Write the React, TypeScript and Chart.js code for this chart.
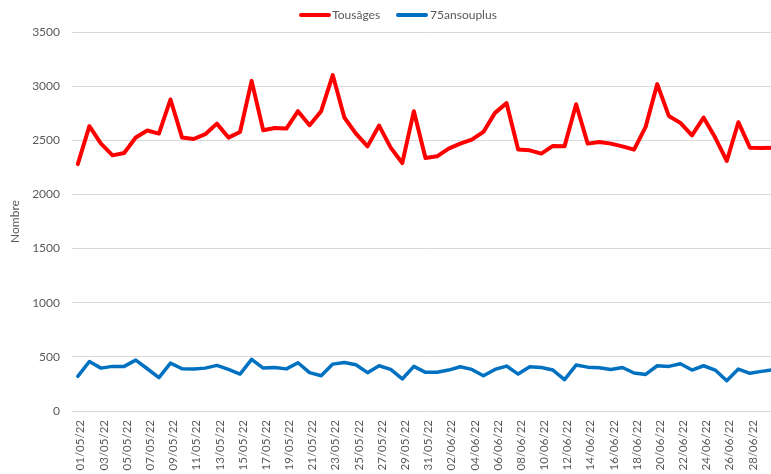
import React, { useEffect, useRef } from "react";
import { Chart, registerables } from "chart.js";

Chart.register(...registerables);

const categories: string[] = [
  "01/05/22", "02/05/22", "03/05/22", "04/05/22", "05/05/22", "06/05/22", "07/05/22", "08/05/22",
  "09/05/22", "10/05/22", "11/05/22", "12/05/22", "13/05/22", "14/05/22", "15/05/22", "16/05/22",
  "17/05/22", "18/05/22", "19/05/22", "20/05/22", "21/05/22", "22/05/22", "23/05/22", "24/05/22",
  "25/05/22", "26/05/22", "27/05/22", "28/05/22", "29/05/22", "30/05/22", "31/05/22",
  "01/06/22", "02/06/22", "03/06/22", "04/06/22", "05/06/22", "06/06/22", "07/06/22", "08/06/22",
  "09/06/22", "10/06/22", "11/06/22", "12/06/22", "13/06/22", "14/06/22", "15/06/22", "16/06/22",
  "17/06/22", "18/06/22", "19/06/22", "20/06/22", "21/06/22", "22/06/22", "23/06/22", "24/06/22",
  "25/06/22", "26/06/22", "27/06/22", "28/06/22", "29/06/22", "30/06/22",
];

const tousAges: number[] = [
  2280, 2630, 2469, 2361, 2383, 2525, 2590, 2562, 2877, 2525,
  2512, 2556, 2654, 2525, 2577, 3049, 2593, 2614, 2608, 2769,
  2639, 2769, 3102, 2710, 2562, 2444, 2636, 2432, 2290, 2769,
  2336, 2352, 2423, 2469, 2506, 2577, 2753, 2843, 2414, 2407,
  2377, 2448, 2444, 2833, 2469, 2485, 2469, 2444, 2414, 2624,
  3019, 2725, 2661, 2546, 2710, 2525, 2309, 2667, 2432, 2429,
  2430,
];

const ansOuPlus75: number[] = [
  320, 457, 396, 412, 412, 470, 390, 308, 442, 390,
  387, 396, 421, 384, 341, 476, 396, 402, 389, 446,
  354, 326, 433, 448, 427, 354, 418, 384, 296, 412,
  357, 357, 378, 409, 384, 326, 384, 415, 341, 409,
  402, 378, 290, 424, 405, 399, 384, 402, 351, 338,
  418, 412, 436, 378, 418, 378, 280, 387, 348, 366,
  380,
];

const yTicks: number[] = [0, 500, 1000, 1500, 2000, 2500, 3000, 3500];

const seriesNames: string[] = ["Tousâges", "75ansouplus"];
const seriesColors: string[] = ["#FF0000", "#0070C0"];

const FONT = "Lato, 'Open Sans', 'Liberation Sans', sans-serif";
const TEXT = "#595959";

export default function App() {
  const canvasRef = useRef<HTMLCanvasElement | null>(null);

  useEffect(() => {
    document.body.style.margin = "0";
    const canvas = canvasRef.current;
    if (!canvas) return;
    const chart = new Chart(canvas, {
      type: "line",
      data: {
        labels: categories,
        datasets: [
          {
            label: seriesNames[0],
            data: tousAges,
            borderColor: seriesColors[0],
            backgroundColor: seriesColors[0],
            borderWidth: 4,
            pointRadius: 0,
            tension: 0,
            borderJoinStyle: "round",
            borderCapStyle: "round",
          },
          {
            label: seriesNames[1],
            data: ansOuPlus75,
            borderColor: seriesColors[1],
            backgroundColor: seriesColors[1],
            borderWidth: 3.5,
            pointRadius: 0,
            tension: 0,
            borderJoinStyle: "round",
            borderCapStyle: "round",
          },
        ],
      },
      options: {
        responsive: false,
        animation: false,
        devicePixelRatio: 1,
        layout: { padding: { top: 32, right: 10, left: 0, bottom: 0 } },
        plugins: {
          legend: { display: false },
          tooltip: { enabled: false },
        },
        scales: {
          x: {
            type: "category",
            offset: true,
            grid: { display: false, drawTicks: false },
            border: { display: false },
            afterFit: (scale: any) => {
              scale.height = 63;
            },
            ticks: {
              autoSkip: false,
              minRotation: 90,
              maxRotation: 90,
              padding: 9,
              labelOffset: 3,
              color: TEXT,
              font: { family: FONT, size: 11.5 },
              callback: function (_v: any, i: number) {
                return i % 2 === 0 && i < categories.length - 1 ? categories[i] : "";
              },
            },
          },
          y: {
            min: 0,
            max: 3500,
            afterFit: (scale: any) => {
              scale.width = 72;
            },
            afterBuildTicks: (scale: any) => {
              scale.ticks = yTicks.map((v) => ({ value: v }));
            },
            grid: { color: "#D9D9D9", lineWidth: 1, drawTicks: false },
            border: { display: false },
            ticks: {
              padding: 12,
              color: TEXT,
              font: { family: FONT, size: 12 },
              callback: (v: any) => String(v),
            },
            title: {
              display: true,
              text: "Nombre",
              color: TEXT,
              font: { family: FONT, size: 12 },
              padding: { top: 8, bottom: 0 },
            },
          },
        },
      },
    });
    return () => chart.destroy();
  }, []);

  const legendItem = (name: string, color: string, gap: number) => (
    <div key={name} style={{ display: "flex", alignItems: "center" }}>
      <div style={{ width: 32, height: 4, background: color, borderRadius: 2, marginRight: gap }} />
      <span style={{ fontFamily: FONT, fontSize: 12, color: TEXT, lineHeight: "14px" }}>{name}</span>
    </div>
  );

  return (
    <div
      style={{
        position: "fixed",
        left: 0,
        top: 0,
        width: 771,
        height: 474,
        overflow: "hidden",
        background: "#fff",
      }}
    >
      <canvas ref={canvasRef} width={796} height={474} style={{ width: 796, height: 474, display: "block" }} />
      <div
        style={{
          position: "absolute",
          left: 0,
          top: 8,
          width: 796,
          display: "flex",
          justifyContent: "center",
          gap: 16,
        }}
      >
        {legendItem(seriesNames[0], seriesColors[0], 1)}
        {legendItem(seriesNames[1], seriesColors[1], 2)}
      </div>
    </div>
  );
}
